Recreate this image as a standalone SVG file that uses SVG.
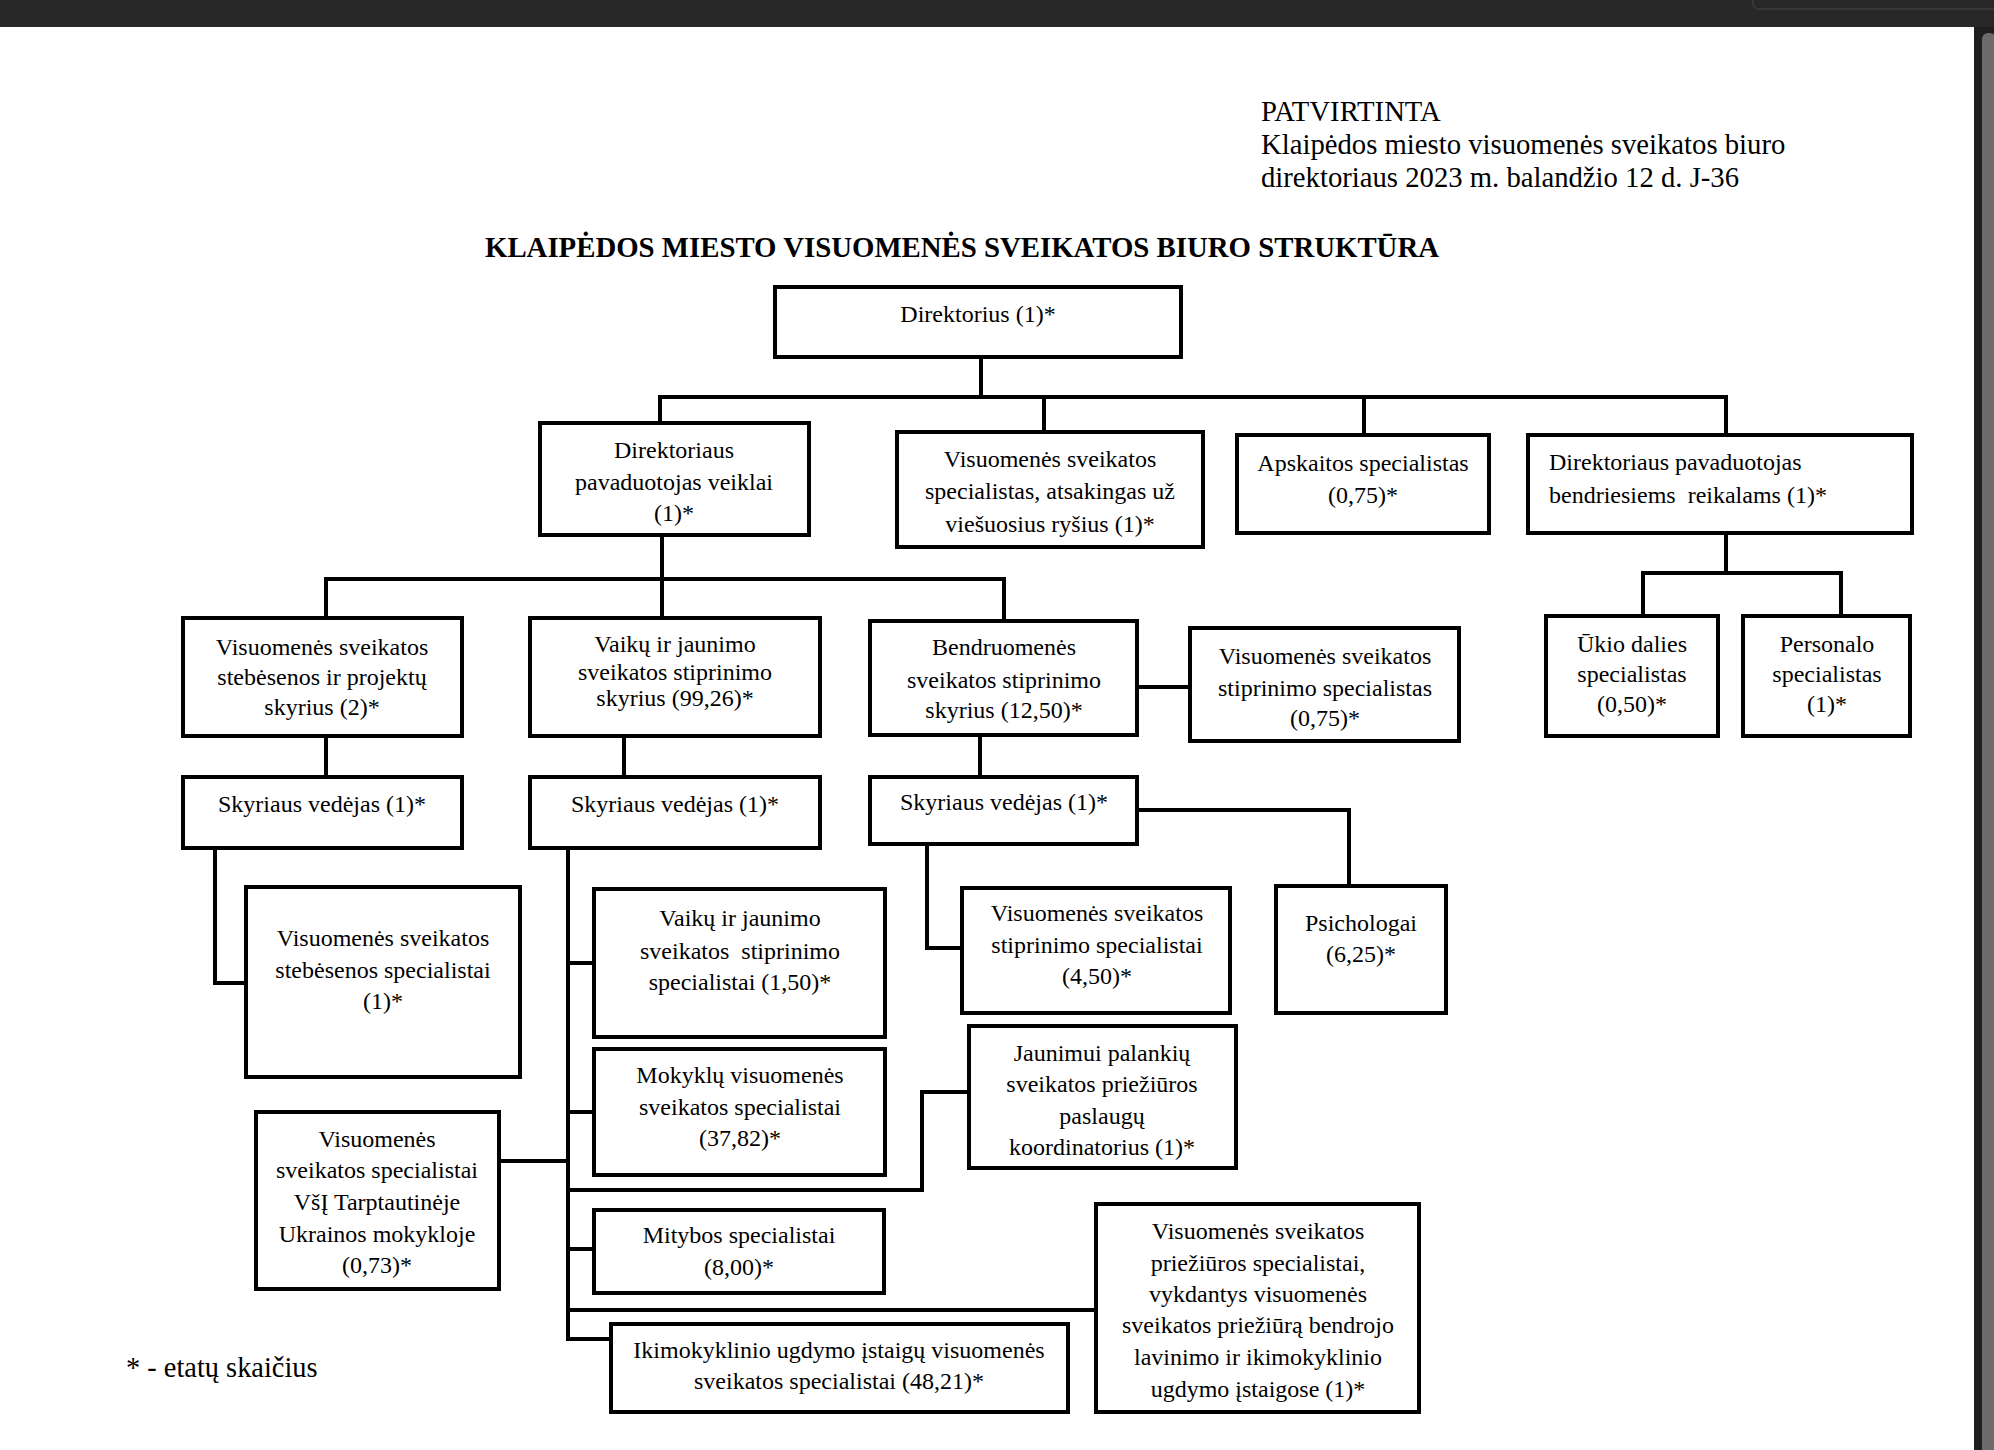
<svg xmlns="http://www.w3.org/2000/svg" width="1994" height="1450" viewBox="0 0 1994 1450">
<style>
  .box { fill: #ffffff; stroke: #000000; stroke-width: 4; }
  .ln { fill: none; stroke: #000000; stroke-width: 4; stroke-linecap: square; }
  text { font-family: "Liberation Serif", "Times New Roman", serif; fill: #000000; }
  .t { font-size: 24px; text-anchor: middle; white-space: pre; }
  .tl { font-size: 24px; text-anchor: start; white-space: pre; }
  .hdr { font-size: 28.7px; }
  .title { font-size: 28.8px; font-weight: bold; text-anchor: middle; }
</style>
<rect x="0" y="0" width="1994" height="1450" fill="#ffffff"/>
<g id="chrome">
  <rect x="0" y="0" width="1994" height="27" fill="#282828"/>
  <rect x="1753" y="-12" width="260" height="21" rx="6" fill="none" stroke="#3c3c3c" stroke-width="1.5"/>
  <rect x="1974" y="27" width="20" height="1423" fill="#1f1f1f"/>
  <rect x="1982" y="33" width="14" height="1430" rx="6" fill="#6b6b6b"/>
</g>
<g id="header">
  <text class="hdr" x="1261" y="121">PATVIRTINTA</text>
  <text class="hdr" x="1261" y="154">Klaipėdos miesto visuomenės sveikatos biuro</text>
  <text class="hdr" x="1261" y="187">direktoriaus 2023 m. balandžio 12 d. J-36</text>
  <text class="title" x="962" y="257">KLAIPĖDOS MIESTO VISUOMENĖS SVEIKATOS BIURO STRUKTŪRA</text>
</g>
<g id="connectors">
  <path class="ln" d="M981 357 V397 M660 397 H1726 M660 397 V423 M1044 397 V432 M1364 397 V435 M1726 397 V435"/>
  <path class="ln" d="M662 535 V618 M326 579 H1004 M326 579 V618 M1004 579 V621"/>
  <path class="ln" d="M1137 687 H1190"/>
  <path class="ln" d="M1726 533 V573 M1643 573 H1841 M1643 573 V616 M1841 573 V616"/>
  <path class="ln" d="M326 736 V777 M624 736 V777 M980 735 V777"/>
  <path class="ln" d="M1137 810 H1349 V886"/>
  <path class="ln" d="M215 848 V983 H246"/>
  <path class="ln" d="M568 848 V1339 H611 M568 963 H594 M568 1112 H594 M568 1249 H594 M499 1161 H568 M568 1310 H1096"/>
  <path class="ln" d="M927 844 V948 H962"/>
  <path class="ln" d="M568 1190 H922 V1092 H969"/>
</g>
<g id="n-direktorius">
  <rect class="box" x="775" y="287" width="406" height="70"/>
  <text class="t" x="978" y="322">Direktorius (1)*</text>
</g>
<g id="n-pav-veiklai">
  <rect class="box" x="540" y="423" width="269" height="112"/>
  <text class="t" x="674" y="458">Direktoriaus</text>
  <text class="t" x="674" y="490">pavaduotojas veiklai</text>
  <text class="t" x="674" y="521">(1)*</text>
</g>
<g id="n-rysiai">
  <rect class="box" x="897" y="432" width="306" height="115"/>
  <text class="t" x="1050" y="467">Visuomenės sveikatos</text>
  <text class="t" x="1050" y="499">specialistas, atsakingas už</text>
  <text class="t" x="1050" y="532">viešuosius ryšius (1)*</text>
</g>
<g id="n-apskaita">
  <rect class="box" x="1237" y="435" width="252" height="98"/>
  <text class="t" x="1363" y="471">Apskaitos specialistas</text>
  <text class="t" x="1363" y="503">(0,75)*</text>
</g>
<g id="n-pav-bendr">
  <rect class="box" x="1528" y="435" width="384" height="98"/>
  <text class="tl" x="1549" y="470">Direktoriaus pavaduotojas</text>
  <text class="tl" x="1549" y="503">bendriesiems  reikalams (1)*</text>
</g>
<g id="n-stebesenos-skyrius">
  <rect class="box" x="183" y="618" width="279" height="118"/>
  <text class="t" x="322" y="655">Visuomenės sveikatos</text>
  <text class="t" x="322" y="685">stebėsenos ir projektų</text>
  <text class="t" x="322" y="715">skyrius (2)*</text>
</g>
<g id="n-vaiku-skyrius">
  <rect class="box" x="530" y="618" width="290" height="118"/>
  <text class="t" x="675" y="652">Vaikų ir jaunimo</text>
  <text class="t" x="675" y="680">sveikatos stiprinimo</text>
  <text class="t" x="675" y="706">skyrius (99,26)*</text>
</g>
<g id="n-bendruomenes-skyrius">
  <rect class="box" x="870" y="621" width="267" height="114"/>
  <text class="t" x="1004" y="655">Bendruomenės</text>
  <text class="t" x="1004" y="688">sveikatos stiprinimo</text>
  <text class="t" x="1004" y="718">skyrius (12,50)*</text>
</g>
<g id="n-stiprinimo-specialistas">
  <rect class="box" x="1190" y="628" width="269" height="113"/>
  <text class="t" x="1325" y="664">Visuomenės sveikatos</text>
  <text class="t" x="1325" y="696">stiprinimo specialistas</text>
  <text class="t" x="1325" y="726">(0,75)*</text>
</g>
<g id="n-ukio">
  <rect class="box" x="1546" y="616" width="172" height="120"/>
  <text class="t" x="1632" y="652">Ūkio dalies</text>
  <text class="t" x="1632" y="682">specialistas</text>
  <text class="t" x="1632" y="712">(0,50)*</text>
</g>
<g id="n-personalo">
  <rect class="box" x="1743" y="616" width="167" height="120"/>
  <text class="t" x="1827" y="652">Personalo</text>
  <text class="t" x="1827" y="682">specialistas</text>
  <text class="t" x="1827" y="712">(1)*</text>
</g>
<g id="n-vedejas-a">
  <rect class="box" x="183" y="777" width="279" height="71"/>
  <text class="t" x="322" y="812">Skyriaus vedėjas (1)*</text>
</g>
<g id="n-vedejas-b">
  <rect class="box" x="530" y="777" width="290" height="71"/>
  <text class="t" x="675" y="812">Skyriaus vedėjas (1)*</text>
</g>
<g id="n-vedejas-c">
  <rect class="box" x="870" y="777" width="267" height="67"/>
  <text class="t" x="1004" y="810">Skyriaus vedėjas (1)*</text>
</g>
<g id="n-psichologai">
  <rect class="box" x="1276" y="886" width="170" height="127"/>
  <text class="t" x="1361" y="931">Psichologai</text>
  <text class="t" x="1361" y="962">(6,25)*</text>
</g>
<g id="n-stebesenos-spec">
  <rect class="box" x="246" y="887" width="274" height="190"/>
  <text class="t" x="383" y="946">Visuomenės sveikatos</text>
  <text class="t" x="383" y="978">stebėsenos specialistai</text>
  <text class="t" x="383" y="1009">(1)*</text>
</g>
<g id="n-vaiku-spec">
  <rect class="box" x="594" y="889" width="291" height="148"/>
  <text class="t" x="740" y="926">Vaikų ir jaunimo</text>
  <text class="t" x="740" y="959">sveikatos  stiprinimo</text>
  <text class="t" x="740" y="990">specialistai (1,50)*</text>
</g>
<g id="n-mokyklu">
  <rect class="box" x="594" y="1049" width="291" height="126"/>
  <text class="t" x="740" y="1083">Mokyklų visuomenės</text>
  <text class="t" x="740" y="1115">sveikatos specialistai</text>
  <text class="t" x="740" y="1146">(37,82)*</text>
</g>
<g id="n-stiprinimo-spec">
  <rect class="box" x="962" y="888" width="268" height="125"/>
  <text class="t" x="1097" y="921">Visuomenės sveikatos</text>
  <text class="t" x="1097" y="953">stiprinimo specialistai</text>
  <text class="t" x="1097" y="984">(4,50)*</text>
</g>
<g id="n-jaunimui">
  <rect class="box" x="969" y="1026" width="267" height="142"/>
  <text class="t" x="1102" y="1061">Jaunimui palankių</text>
  <text class="t" x="1102" y="1092">sveikatos priežiūros</text>
  <text class="t" x="1102" y="1124">paslaugų</text>
  <text class="t" x="1102" y="1155">koordinatorius (1)*</text>
</g>
<g id="n-ukrainos">
  <rect class="box" x="256" y="1112" width="243" height="177"/>
  <text class="t" x="377" y="1147">Visuomenės</text>
  <text class="t" x="377" y="1178">sveikatos specialistai</text>
  <text class="t" x="377" y="1210">VšĮ Tarptautinėje</text>
  <text class="t" x="377" y="1242">Ukrainos mokykloje</text>
  <text class="t" x="377" y="1273">(0,73)*</text>
</g>
<g id="n-mitybos">
  <rect class="box" x="594" y="1210" width="290" height="83"/>
  <text class="t" x="739" y="1243">Mitybos specialistai</text>
  <text class="t" x="739" y="1275">(8,00)*</text>
</g>
<g id="n-prieziuros">
  <rect class="box" x="1096" y="1204" width="323" height="208"/>
  <text class="t" x="1258" y="1239">Visuomenės sveikatos</text>
  <text class="t" x="1258" y="1271">priežiūros specialistai,</text>
  <text class="t" x="1258" y="1302">vykdantys visuomenės</text>
  <text class="t" x="1258" y="1333">sveikatos priežiūrą bendrojo</text>
  <text class="t" x="1258" y="1365">lavinimo ir ikimokyklinio</text>
  <text class="t" x="1258" y="1397">ugdymo įstaigose (1)*</text>
</g>
<g id="n-ikimokyklinio">
  <rect class="box" x="611" y="1324" width="457" height="88"/>
  <text class="t" x="839" y="1358">Ikimokyklinio ugdymo įstaigų visuomenės</text>
  <text class="t" x="839" y="1389">sveikatos specialistai (48,21)*</text>
</g>
<g id="footnote">
  <text x="126" y="1377" style="font-size:28.4px">* - etatų skaičius</text>
</g>
</svg>
